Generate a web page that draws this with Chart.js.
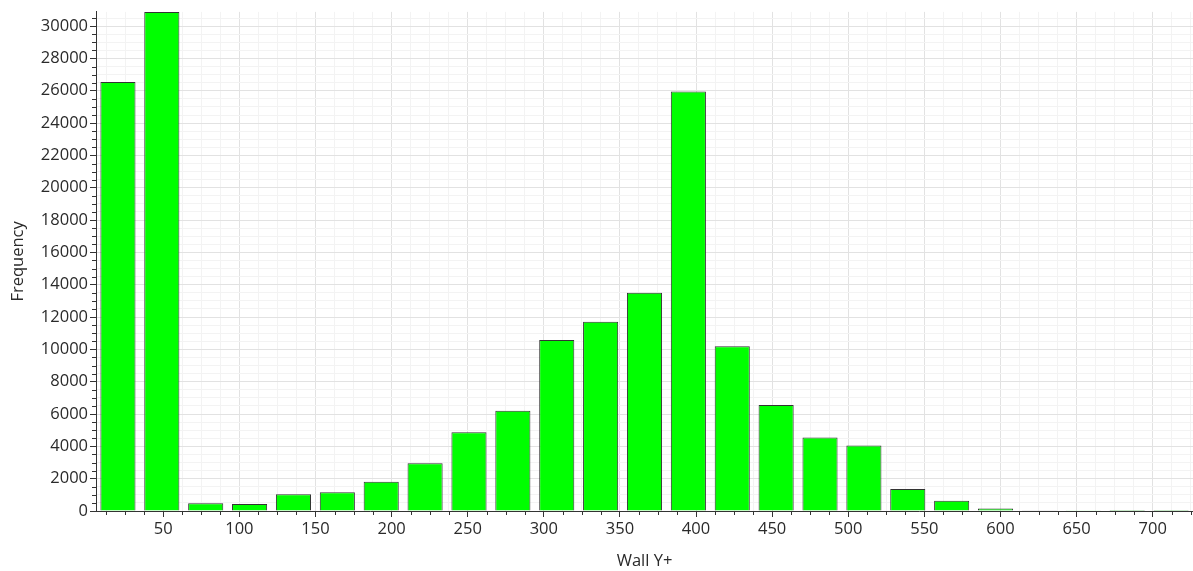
<!DOCTYPE html>
<html>
<head>
<meta charset="utf-8">
<script src="https://cdn.jsdelivr.net/npm/chart.js@4.4.1/dist/chart.umd.min.js"></script>
<style>
  html, body { margin: 0; padding: 0; background: #ffffff; }
  #wrap { width: 1193px; height: 571px; position: relative; }
</style>
</head>
<body>
<div id="wrap"><canvas id="c"></canvas></div>
<script>
// Histogram bin centres (Wall Y+) and counts
const binCenters = [20.2, 49.0, 77.9, 106.7, 135.5, 164.4, 193.2, 222.0, 250.8, 279.7,
                    308.5, 337.3, 366.2, 395.0, 423.8, 452.7, 481.5, 510.3, 539.1, 568.0,
                    596.8, 625.6, 654.5, 683.3, 712.1];
const frequency = [26540, 30880, 480, 440, 1040, 1160, 1810, 2960, 4870, 6200,
                   10580, 11710, 13510, 25950, 10190, 6560, 4540, 4050, 1360, 630,
                   155, 40, 8, 5, 3];
const xRange = [5.8, 726.5];
const yRange = [0, 30880];
const xMinorStep = 12.5, xLabelStep = 50;
const yMinorStep = 500, yLabelStep = 2000;
const xTitle = 'Wall Y+';
const yTitle = 'Frequency';

const FONT = "'Open Sans', 'Noto Sans', sans-serif";
const TEXT = '#2a2a2a';

const isMult = (v, s) => Math.abs(v / s - Math.round(v / s)) < 1e-6;
function stepTicks(s, step) {
  const out = [];
  const start = Math.ceil(s.min / step - 1e-9);
  const end = Math.floor(s.max / step + 1e-9);
  for (let k = start; k <= end; k++) out.push({ value: Math.round(k * step * 1000) / 1000 });
  s.ticks = out;
}

const minorTicks = {
  id: 'minorTicks',
  afterDraw(chart) {
    const ctx = chart.ctx;
    ctx.save();
    ctx.strokeStyle = '#333333';
    ctx.lineWidth = 1;
    const xs = chart.scales.x, ys = chart.scales.y;
    const b = chart.chartArea.bottom, l = chart.chartArea.left;
    xs.ticks.forEach(t => {
      if (isMult(t.value, xLabelStep)) return;
      const px = Math.round(xs.getPixelForValue(t.value)) + 0.5;
      ctx.beginPath(); ctx.moveTo(px, b); ctx.lineTo(px, b + 4); ctx.stroke();
    });
    ys.ticks.forEach(t => {
      if (isMult(t.value, yLabelStep)) return;
      const py = Math.round(ys.getPixelForValue(t.value)) + 0.5;
      ctx.beginPath(); ctx.moveTo(l, py); ctx.lineTo(l - 4, py); ctx.stroke();
    });
    ctx.restore();
  }
};

new Chart(document.getElementById('c'), {
  type: 'bar',
  data: {
    labels: binCenters.map(String),
    datasets: [{
      data: frequency,
      xAxisID: 'xb',
      yAxisID: 'y',
      backgroundColor: '#00ff00',
      borderColor: '#333333',
      borderWidth: 1,
      barPercentage: 0.8,
      categoryPercentage: 1.0
    }]
  },
  options: {
    responsive: true,
    maintainAspectRatio: false,
    animation: false,
    layout: { padding: { top: 9, right: 0, left: 0, bottom: 0 } },
    plugins: { legend: { display: false }, tooltip: { enabled: false } },
    scales: {
      xb: {
        type: 'category',
        axis: 'x',
        position: 'bottom',
        display: false,
        offset: true
      },
      x: {
        type: 'linear',
        axis: 'x',
        position: 'bottom',
        min: xRange[0], max: xRange[1],
        offset: false,
        afterFit(s) { s.height = 60; },
        afterBuildTicks(s) { stepTicks(s, xMinorStep); },
        ticks: {
          autoSkip: false,
          maxRotation: 0,
          padding: 2,
          color: TEXT,
          font: { family: FONT, size: 16.5 },
          callback: v => isMult(v, xLabelStep) ? String(v) : ''
        },
        grid: {
          offset: false,
          drawTicks: true,
          tickLength: 6,
          color: c => isMult(c.tick.value, xLabelStep) ? '#e2e2e2' : '#f3f3f3',
          tickColor: c => isMult(c.tick.value, xLabelStep) ? '#333333' : 'rgba(0,0,0,0)'
        },
        border: { display: true, color: '#333333', width: 1 },
        title: {
          display: true, text: xTitle, color: TEXT,
          font: { family: FONT, size: 16.5 },
          padding: { top: 7, bottom: 0 }
        }
      },
      y: {
        type: 'linear',
        min: yRange[0], max: yRange[1],
        afterFit(s) { s.width = 96; },
        afterBuildTicks(s) { stepTicks(s, yMinorStep); },
        ticks: {
          autoSkip: false,
          padding: 2,
          color: TEXT,
          font: { family: FONT, size: 16.5 },
          callback: v => isMult(v, yLabelStep) ? String(v) : ''
        },
        grid: {
          drawTicks: true,
          tickLength: 6,
          color: c => isMult(c.tick.value, yLabelStep) ? '#e2e2e2' : '#f3f3f3',
          tickColor: c => isMult(c.tick.value, yLabelStep) ? '#333333' : 'rgba(0,0,0,0)'
        },
        border: { display: true, color: '#333333', width: 1 },
        title: {
          display: true, text: yTitle, color: TEXT,
          font: { family: FONT, size: 16.5 },
          padding: { top: 8, bottom: 0 }
        }
      }
    }
  },
  plugins: [minorTicks]
});
</script>
</body>
</html>
